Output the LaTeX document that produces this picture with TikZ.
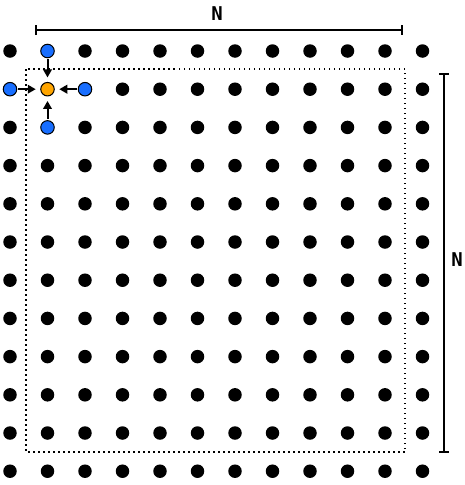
\documentclass[tikz,border=0pt]{standalone}
\usepackage{fontspec}
\newfontfamily\labelfont{DejaVu Sans Mono}
\usetikzlibrary{arrows.meta}
\definecolor{nbblue}{RGB}{24,110,255}
\definecolor{cellorange}{RGB}{255,165,0}
\tikzset{
  gpt/.style={circle,fill=black,inner sep=0pt,minimum size=13.5pt},
  nbpt/.style={gpt,draw=black,line width=1pt,fill=nbblue},
  cpt/.style={gpt,draw=black,line width=1pt,fill=cellorange},
  flow/.style={line width=2pt,-{Triangle[length=8pt,width=8.5pt]},shorten >=4.5pt,shorten <=1pt},
  dim/.style={line width=2pt,{Bar[width=10pt,line width=2pt]}-{Bar[width=10pt,line width=2pt]}},
  lbl/.style={font=\labelfont\bfseries\fontsize{19}{19}\selectfont}
}
\begin{document}
\begin{tikzpicture}[x=1pt,y=-1pt]
\useasboundingbox (0,0) rectangle (464,485);

\pgfmathsetmacro{\dx}{37.5};
\pgfmathsetmacro{\dy}{38.2};

% grid points
\foreach \i in {0,...,11}{
  \foreach \j in {0,...,11}{
    \node[gpt] (p-\i-\j) at ({10+\dx*\i},{51+\dy*\j}) {};
  }
}

% stencil
\node[cpt] (c) at (p-1-1) {};
\node[nbpt] (up) at (p-1-0) {};
\node[nbpt] (lt) at (p-0-1) {};
\node[nbpt] (rt) at (p-2-1) {};
\node[nbpt] (dn) at (p-1-2) {};
\draw[flow] (up) -- (c);
\draw[flow] (lt) -- (c);
\draw[flow] (rt) -- (c);
\draw[flow] (dn) -- (c);

% domain
\draw[line width=1.5pt,dash pattern=on 1.5pt off 3.5pt] (26,69) rectangle (405,452);

% sizes
\coordinate (ta) at (35,30);
\coordinate (tb) at (403,30);
\draw[dim] (ta) -- (tb);
\node[lbl] (nt) at (217,14) {N};
\coordinate (ra) at (444,73);
\coordinate (rb) at (444,453);
\draw[dim] (ra) -- (rb);
\node[lbl] (nr) at (457,260) {N};
\end{tikzpicture}
\end{document}
